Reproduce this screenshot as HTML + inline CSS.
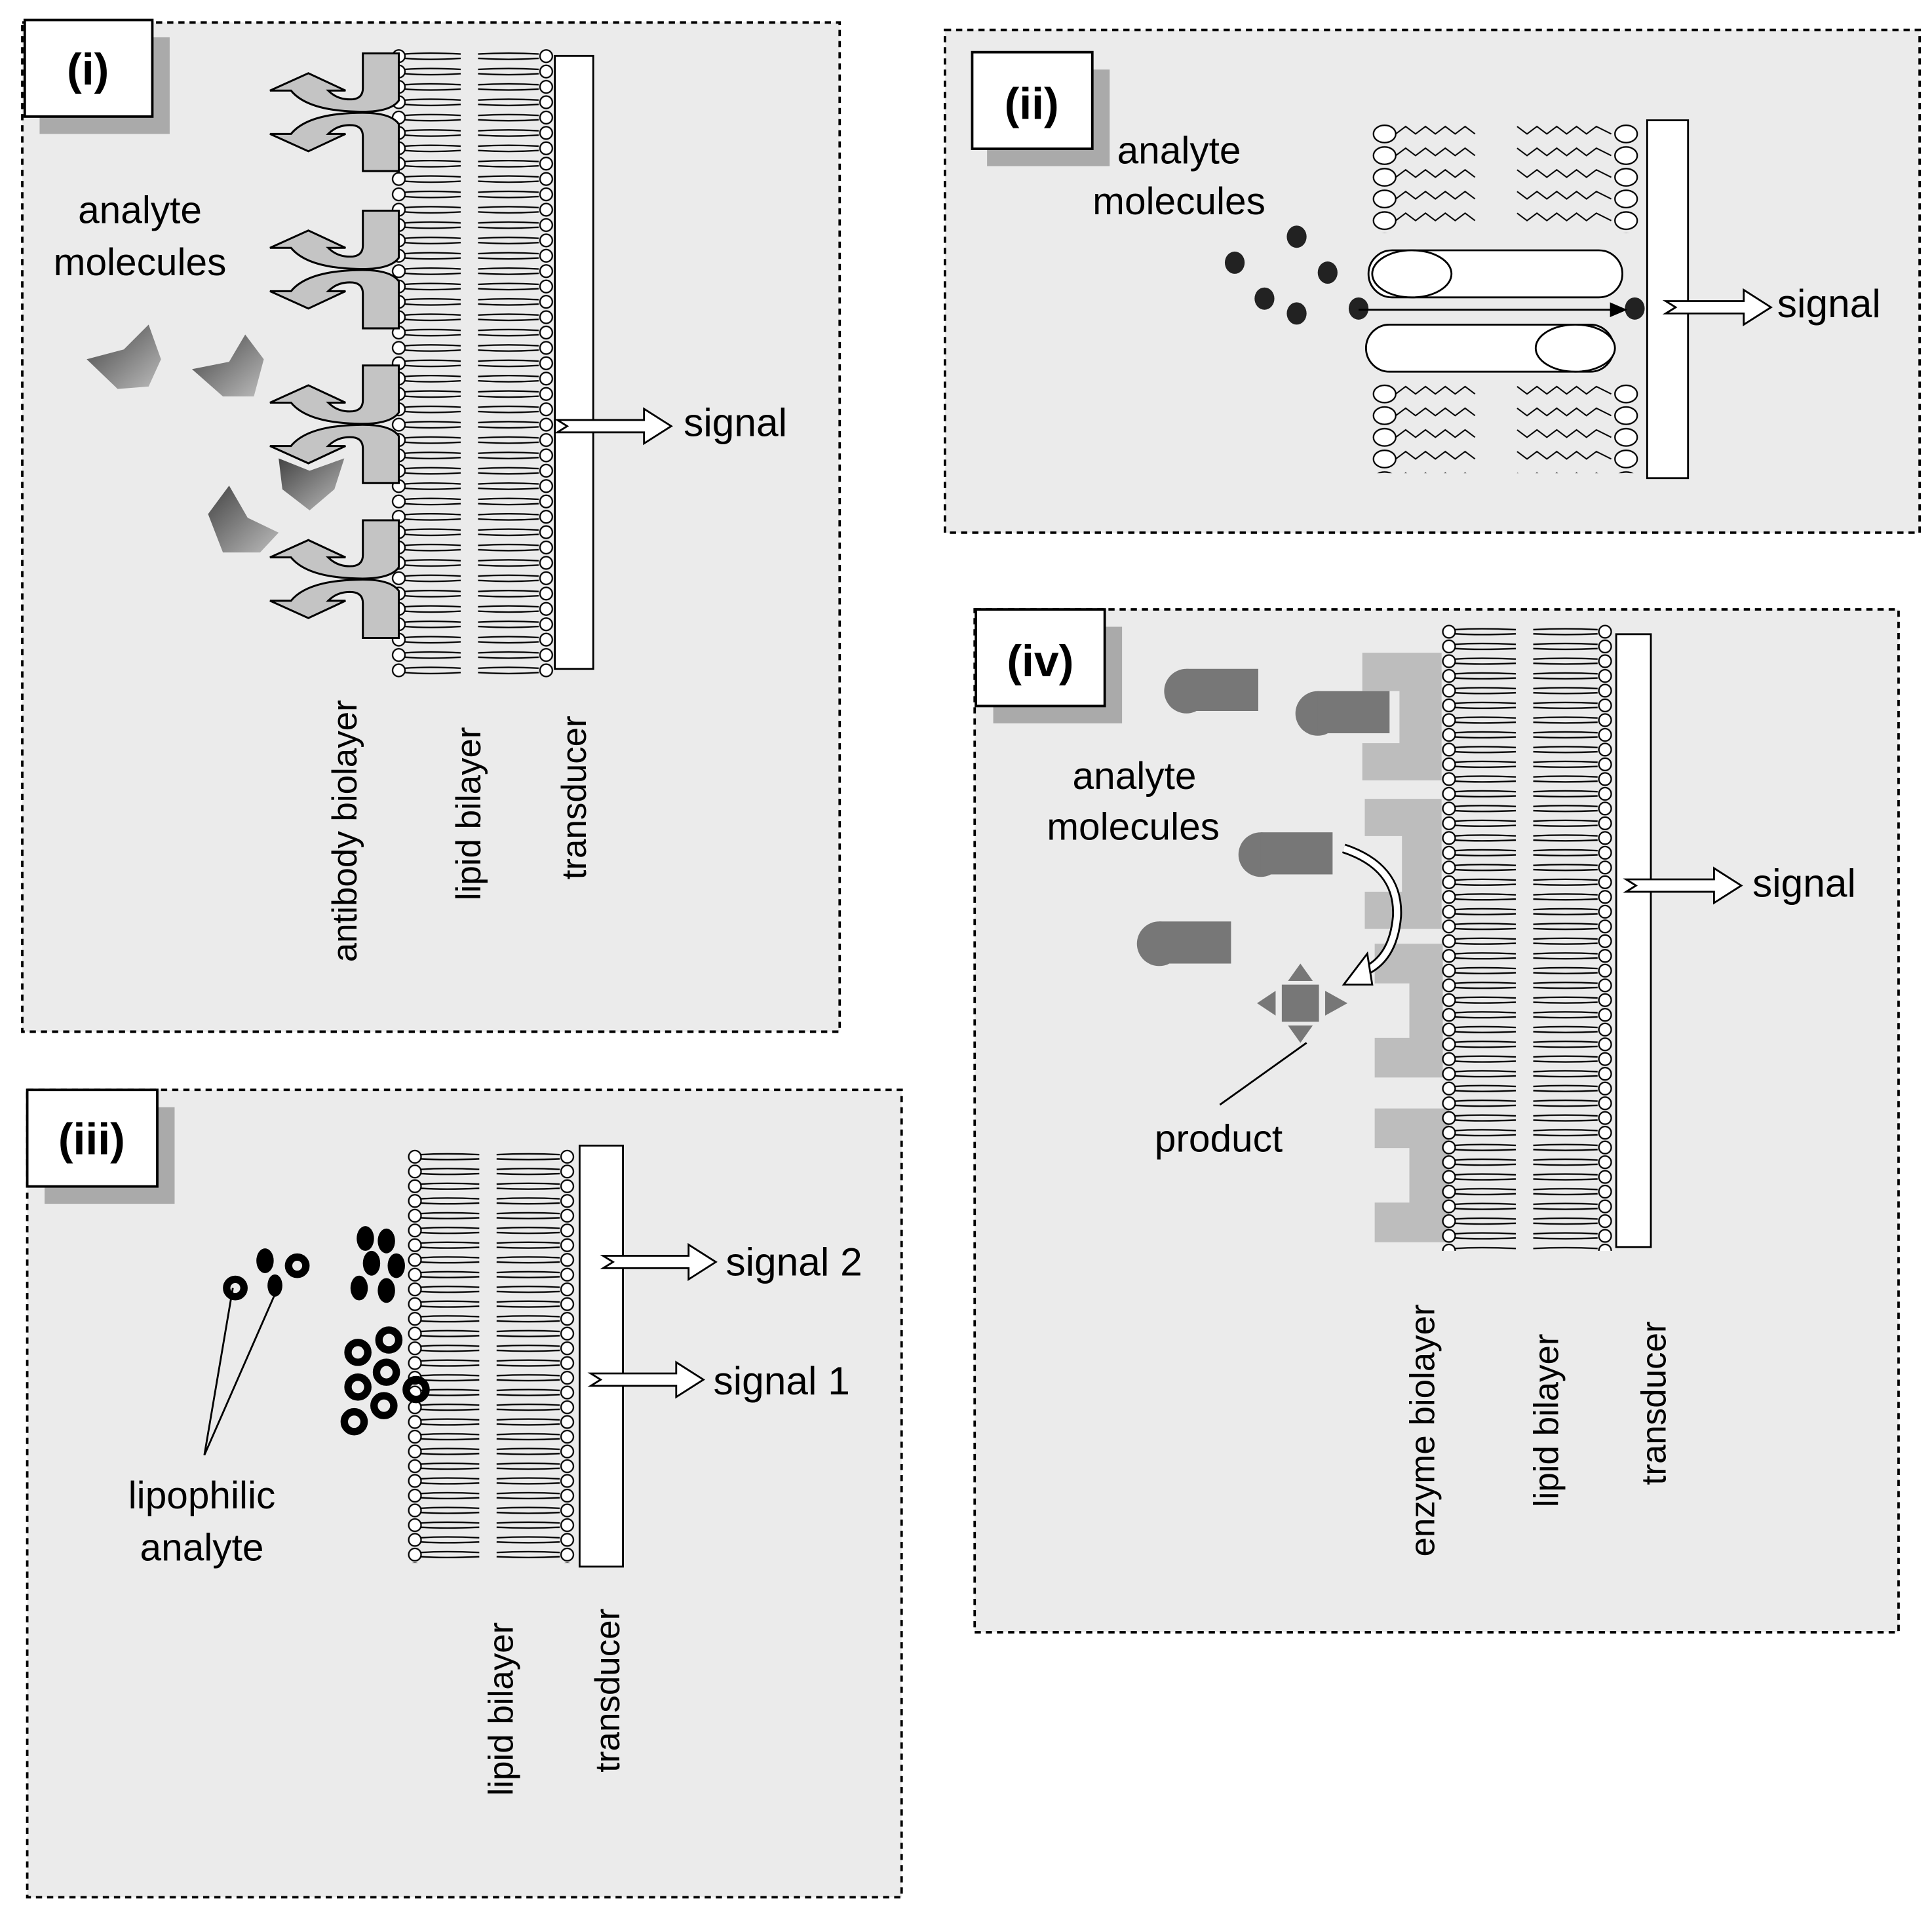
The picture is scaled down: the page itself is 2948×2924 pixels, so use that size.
<!DOCTYPE html>
<html><head><meta charset="utf-8"><style>
html,body{margin:0;padding:0;background:#fff}
svg{display:block}
text{font-family:"Liberation Sans",sans-serif;fill:#000}
</style></head><body>
<svg width="2948" height="2924" viewBox="0 0 1560 1547" xmlns="http://www.w3.org/2000/svg">
<defs>
<pattern id="bl1" patternUnits="userSpaceOnUse" x="316" y="39" width="131" height="12.4">
<circle cx="6" cy="6.2" r="5" fill="#fff" stroke="#000" stroke-width="1.2"/>
<path d="M11 4.5 Q30 3 56 4.5 M11 8 Q30 9.5 56 8 M70 4.5 Q95 3 119 4.5 M70 8 Q95 9.5 119 8" stroke="#000" stroke-width="1.2" fill="none"/>
<circle cx="125" cy="6.2" r="5" fill="#fff" stroke="#000" stroke-width="1.2"/>
</pattern>
<pattern id="bl3" patternUnits="userSpaceOnUse" x="329" y="928" width="135" height="11.9">
<circle cx="6" cy="6" r="5" fill="#fff" stroke="#000" stroke-width="1.2"/>
<path d="M11 4.3 Q30 3 58 4.3 M11 7.7 Q30 9 58 7.7 M72 4.3 Q98 3 123 4.3 M72 7.7 Q98 9 123 7.7" stroke="#000" stroke-width="1.2" fill="none"/>
<circle cx="129" cy="6" r="5" fill="#fff" stroke="#000" stroke-width="1.2"/>
</pattern>
<pattern id="bl4" patternUnits="userSpaceOnUse" x="1164" y="504" width="138" height="11.9">
<circle cx="6" cy="6" r="5" fill="#fff" stroke="#000" stroke-width="1.2"/>
<path d="M11 4.3 Q30 3 60 4.3 M11 7.7 Q30 9 60 7.7 M74 4.3 Q100 3 126 4.3 M74 7.7 Q100 9 126 7.7" stroke="#000" stroke-width="1.2" fill="none"/>
<circle cx="132" cy="6" r="5" fill="#fff" stroke="#000" stroke-width="1.2"/>
</pattern>
<pattern id="zz" patternUnits="userSpaceOnUse" x="1108" y="100" width="220" height="17.5">
<ellipse cx="10" cy="8" rx="9" ry="7" fill="#fff" stroke="#000" stroke-width="1.2"/>
<path d="M19 8 l8 -6 l8 6 l8 -6 l8 6 l8 -6 l8 6 l8 -6 l8 6 M117 2 l8 6 l8 -6 l8 6 l8 -6 l8 6 l8 -6 l8 6 l8 -6 l12 6" stroke="#000" stroke-width="1.1" fill="none"/>
<ellipse cx="205" cy="8" rx="9" ry="7" fill="#fff" stroke="#000" stroke-width="1.2"/>
</pattern>
<linearGradient id="gg" x1="0" y1="0" x2="1" y2="1"><stop offset="0" stop-color="#444"/><stop offset="1" stop-color="#bbb"/></linearGradient>
<g id="ab" fill="#c4c4c4" stroke="#000" stroke-width="1.6" stroke-linejoin="miter">
<path d="M0,0 H29 V38 Q22,48 -5,47 Q-45,46 -58,30 L-75,30 L-44,16 L-14,30 L-28,30 Q-20,38 -8,37 Q0,36 0,28 Z"/>
<path d="M0,95 H29 V57 Q22,47 -5,48 Q-45,49 -58,65 L-75,65 L-44,79 L-14,65 L-28,65 Q-20,57 -8,58 Q0,59 0,67 Z"/>
</g>
<g id="mol"><circle cx="18" cy="18" r="18" fill="#777"/><rect x="18" y="0" width="58" height="34" fill="#777"/></g>
</defs>

<!-- panel boxes -->
<rect x="18" y="18" width="660" height="815" fill="#ebebeb" stroke="#000" stroke-width="2" stroke-dasharray="5,4"/>
<rect x="763" y="24" width="787" height="406" fill="#ebebeb" stroke="#000" stroke-width="2" stroke-dasharray="5,4"/>
<rect x="22" y="880" width="706" height="652" fill="#ebebeb" stroke="#000" stroke-width="2" stroke-dasharray="5,4"/>
<rect x="787" y="492" width="746" height="826" fill="#ebebeb" stroke="#000" stroke-width="2" stroke-dasharray="5,4"/>

<!-- labels -->
<rect x="32" y="30" width="105" height="78" fill="#aaa"/><rect x="20" y="16" width="103" height="78" fill="#fff" stroke="#000" stroke-width="2"/>
<text x="71" y="68" font-size="36" font-weight="bold" text-anchor="middle">(i)</text>
<rect x="797" y="56" width="99" height="78" fill="#aaa"/><rect x="785" y="42" width="97" height="78" fill="#fff" stroke="#000" stroke-width="2"/>
<text x="833" y="96" font-size="36" font-weight="bold" text-anchor="middle">(ii)</text>
<rect x="36" y="894" width="105" height="78" fill="#aaa"/><rect x="22" y="880" width="105" height="78" fill="#fff" stroke="#000" stroke-width="2"/>
<text x="74" y="932" font-size="36" font-weight="bold" text-anchor="middle">(iii)</text>
<rect x="802" y="506" width="104" height="78" fill="#aaa"/><rect x="788" y="492" width="104" height="78" fill="#fff" stroke="#000" stroke-width="2"/>
<text x="840" y="546" font-size="36" font-weight="bold" text-anchor="middle">(iv)</text>

<!-- PANEL I -->
<rect x="316" y="39" width="131" height="508" fill="url(#bl1)"/>
<rect x="448" y="45" width="31" height="495" fill="#fff" stroke="#000" stroke-width="1.5"/>
<use href="#ab" x="293" y="43"/>
<use href="#ab" x="293" y="170"/>
<use href="#ab" x="293" y="295"/>
<use href="#ab" x="293" y="420"/>
<polygon points="70,290 100,282 120,262 130,290 120,312 95,314" fill="url(#gg)"/>
<polygon points="155,298 185,292 198,270 213,290 205,320 180,320" fill="url(#gg)"/>
<polygon points="225,370 250,380 278,370 270,395 250,412 228,395" fill="url(#gg)"/>
<polygon points="168,415 185,392 200,418 225,430 210,446 180,446" fill="url(#gg)"/>
<text x="113" y="180" font-size="31" text-anchor="middle">analyte</text>
<text x="113" y="222" font-size="31" text-anchor="middle">molecules</text>
<polygon points="450,339 520,339 520,330 542,344 520,358 520,349 450,349 458,344" fill="#fff" stroke="#000" stroke-width="1.5"/>
<text x="552" y="352" font-size="32">signal</text>
<text transform="translate(288,671) rotate(-90)" font-size="28" text-anchor="middle">antibody  biolayer</text>
<text transform="translate(388,657) rotate(-90)" font-size="28" text-anchor="middle">lipid bilayer</text>
<text transform="translate(473,644) rotate(-90)" font-size="28" text-anchor="middle">transducer</text>

<!-- PANEL II -->
<rect x="1108" y="100" width="220" height="88" fill="url(#zz)"/>
<rect x="1108" y="310" width="220" height="72" fill="url(#zz)"/>
<rect x="1330" y="97" width="33" height="289" fill="#fff" stroke="#000" stroke-width="1.5"/>
<rect x="1105" y="202" width="205" height="38" rx="19" fill="#fff" stroke="#000" stroke-width="1.5"/>
<ellipse cx="1140" cy="221" rx="32" ry="19" fill="#fff" stroke="#000" stroke-width="1.5"/>
<rect x="1103" y="262" width="200" height="38" rx="19" fill="#fff" stroke="#000" stroke-width="1.5"/>
<ellipse cx="1272" cy="281" rx="32" ry="19" fill="#fff" stroke="#000" stroke-width="1.5"/>
<g fill="#222"><ellipse cx="997" cy="212" rx="8" ry="9"/><ellipse cx="1047" cy="191" rx="8" ry="9"/><ellipse cx="1072" cy="220" rx="8" ry="9"/><ellipse cx="1021" cy="241" rx="8" ry="9"/><ellipse cx="1047" cy="253" rx="8" ry="9"/><ellipse cx="1097" cy="249" rx="8" ry="9"/><ellipse cx="1320" cy="249" rx="8" ry="9"/></g>
<line x1="1097" y1="250" x2="1305" y2="250" stroke="#000" stroke-width="1.5"/>
<polygon points="1300,244 1314,250 1300,256" fill="#000"/>
<text x="952" y="132" font-size="31" text-anchor="middle">analyte</text>
<text x="952" y="173" font-size="31" text-anchor="middle">molecules</text>
<polygon points="1345,243 1408,243 1408,234 1430,248 1408,262 1408,253 1345,253 1353,248" fill="#fff" stroke="#000" stroke-width="1.5"/>
<text x="1435" y="256" font-size="32">signal</text>

<!-- PANEL III -->
<rect x="329" y="928" width="135" height="334" fill="url(#bl3)"/>
<rect x="468" y="925" width="35" height="340" fill="#fff" stroke="#000" stroke-width="1.5"/>
<g fill="#000"><ellipse cx="295" cy="1000" rx="7" ry="10"/><ellipse cx="312" cy="1002" rx="7" ry="10"/><ellipse cx="300" cy="1020" rx="7" ry="10"/><ellipse cx="320" cy="1022" rx="7" ry="10"/><ellipse cx="290" cy="1040" rx="7" ry="10"/><ellipse cx="312" cy="1042" rx="7" ry="10"/><ellipse cx="214" cy="1018" rx="7" ry="10"/><ellipse cx="222" cy="1038" rx="6" ry="9"/></g>
<g fill="none" stroke="#000" stroke-width="6"><circle cx="289" cy="1092" r="8"/><circle cx="314" cy="1082" r="8"/><circle cx="289" cy="1120" r="8"/><circle cx="312" cy="1108" r="8"/><circle cx="336" cy="1122" r="8"/><circle cx="286" cy="1148" r="8"/><circle cx="310" cy="1135" r="8"/><circle cx="190" cy="1040" r="7"/><circle cx="240" cy="1022" r="7"/></g>
<path d="M165 1175 L188 1040 M165 1175 L222 1045" stroke="#000" stroke-width="1.5" fill="none"/>
<text x="163" y="1218" font-size="31" text-anchor="middle">lipophilic</text>
<text x="163" y="1260" font-size="31" text-anchor="middle">analyte</text>
<polygon points="487,1014 556,1014 556,1005 578,1019 556,1033 556,1024 487,1024 495,1019" fill="#fff" stroke="#000" stroke-width="1.5"/>
<text x="586" y="1030" font-size="32">signal  2</text>
<polygon points="477,1109 546,1109 546,1100 568,1114 546,1128 546,1119 477,1119 485,1114" fill="#fff" stroke="#000" stroke-width="1.5"/>
<text x="576" y="1126" font-size="32">signal  1</text>
<text transform="translate(414,1380) rotate(-90)" font-size="28" text-anchor="middle">lipid bilayer</text>
<text transform="translate(500,1365) rotate(-90)" font-size="28" text-anchor="middle">transducer</text>

<!-- PANEL IV -->
<g fill="#bdbdbd">
<path d="M1100 527 h64 v103 h-64 v-30 h30 v-42 h-30 z"/>
<path d="M1102 645 h62 v105 h-62 v-30 h30 v-45 h-30 z"/>
<path d="M1110 762 h55 v108 h-55 v-32 h28 v-44 h-28 z"/>
<path d="M1110 895 h60 v108 h-60 v-32 h28 v-44 h-28 z"/>
</g>
<rect x="1164" y="504" width="138" height="506" fill="url(#bl4)"/>
<rect x="1305" y="512" width="28" height="495" fill="#fff" stroke="#000" stroke-width="1.5"/>
<use href="#mol" x="940" y="540"/><use href="#mol" x="1046" y="558"/><use href="#mol" x="1000" y="672"/><use href="#mol" x="918" y="744"/>
<path d="M1085 685 Q1130 700 1128 740 Q1125 775 1100 785" fill="none" stroke="#000" stroke-width="8"/>
<path d="M1085 685 Q1130 700 1128 740 Q1125 775 1100 785" fill="none" stroke="#fff" stroke-width="5"/>
<polygon points="1085,795 1104,770 1108,795" fill="#fff" stroke="#000" stroke-width="1.5"/>
<g fill="#777"><rect x="1035" y="795" width="30" height="30"/><polygon points="1050,778 1060,792 1040,792"/><polygon points="1050,842 1060,828 1040,828"/><polygon points="1015,810 1030,800 1030,820"/><polygon points="1088,810 1070,800 1070,820"/></g>
<line x1="985" y1="892" x2="1055" y2="842" stroke="#000" stroke-width="1.5"/>
<text x="916" y="637" font-size="31" text-anchor="middle">analyte</text>
<text x="915" y="678" font-size="31" text-anchor="middle">molecules</text>
<text x="984" y="930" font-size="31" text-anchor="middle">product</text>
<polygon points="1313,710 1384,710 1384,701 1406,715 1384,729 1384,720 1313,720 1321,715" fill="#fff" stroke="#000" stroke-width="1.5"/>
<text x="1415" y="724" font-size="32">signal</text>
<text transform="translate(1158,1155) rotate(-90)" font-size="28" text-anchor="middle">enzyme  biolayer</text>
<text transform="translate(1258,1147) rotate(-90)" font-size="28" text-anchor="middle">lipid bilayer</text>
<text transform="translate(1345,1133) rotate(-90)" font-size="28" text-anchor="middle">transducer</text>
</svg>
</body></html>
